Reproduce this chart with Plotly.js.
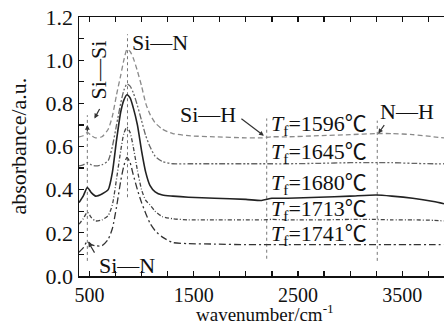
<!DOCTYPE html>
<html>
<head>
<meta charset="utf-8">
<script src="https://cdn.plot.ly/plotly-3.0.1.min.js"></script>
<style>html,body{margin:0;padding:0;background:#fff;}#chart{width:444px;height:327px;}</style>
</head>
<body>
<div id="chart"></div>
<script>
// wavenumber grid (cm^-1)
const wavenumber = [400, 440, 480, 520, 560, 620, 680, 720, 760, 800, 830, 860, 890, 920, 960, 1000, 1040, 1080, 1130, 1200, 1300, 1450, 1700, 2000, 2150, 2250, 2400, 2700, 3000, 3250, 3400, 3600, 3800, 3900];
// absorbance of each sample
const abs1596 = [0.645, 0.65, 0.665, 0.65, 0.64, 0.645, 0.68, 0.74, 0.84, 0.93, 1.0, 1.05, 1.04, 1.01, 0.95, 0.88, 0.80, 0.75, 0.71, 0.68, 0.66, 0.65, 0.645, 0.64, 0.64, 0.645, 0.645, 0.65, 0.655, 0.66, 0.66, 0.655, 0.645, 0.64];
const abs1645 = [0.51, 0.515, 0.525, 0.515, 0.51, 0.515, 0.535, 0.6, 0.7, 0.8, 0.86, 0.89, 0.88, 0.85, 0.79, 0.72, 0.65, 0.6, 0.555, 0.53, 0.52, 0.52, 0.52, 0.52, 0.52, 0.52, 0.52, 0.522, 0.525, 0.525, 0.525, 0.522, 0.52, 0.52];
const abs1680 = [0.34, 0.37, 0.41, 0.385, 0.37, 0.38, 0.40, 0.48, 0.63, 0.76, 0.815, 0.84, 0.825, 0.78, 0.70, 0.58, 0.48, 0.42, 0.39, 0.375, 0.37, 0.365, 0.36, 0.355, 0.35, 0.36, 0.36, 0.365, 0.37, 0.375, 0.37, 0.36, 0.345, 0.335];
const abs1713 = [0.24, 0.265, 0.295, 0.27, 0.255, 0.26, 0.28, 0.33, 0.45, 0.58, 0.66, 0.69, 0.665, 0.60, 0.49, 0.40, 0.35, 0.33, 0.30, 0.275, 0.265, 0.26, 0.26, 0.26, 0.26, 0.262, 0.26, 0.26, 0.262, 0.262, 0.26, 0.26, 0.258, 0.255];
const abs1741 = [0.11, 0.13, 0.16, 0.145, 0.14, 0.14, 0.17, 0.22, 0.32, 0.44, 0.51, 0.55, 0.525, 0.47, 0.40, 0.34, 0.29, 0.245, 0.21, 0.18, 0.155, 0.15, 0.148, 0.145, 0.145, 0.145, 0.145, 0.145, 0.145, 0.145, 0.145, 0.145, 0.145, 0.145];

// band marker lines (wavenumber, lower, upper)
const markerWn = [480, 865, 2200, 3260];
const markerLow = [0.07, 0.365, 0.08, 0.07];
const markerHigh = [0.745, 1.12, 0.73, 0.72];

// series labels
const tempLabels = ['1596', '1645', '1680', '1713', '1741'];
const tempLabelY = [0.70, 0.57, 0.426, 0.306, 0.19];
const tempLabelWn = 2225;

// axis ticks
const xTickVals = [500, 750, 1000, 1250, 1500, 1750, 2000, 2250, 2500, 2750, 3000, 3250, 3500, 3750];
const xTickText = ['500', '', '', '', '1500', '', '', '', '2500', '', '', '', '3500', ''];
const yTickVals = [0, 0.1, 0.2, 0.3, 0.4, 0.5, 0.6, 0.7, 0.8, 0.9, 1.0, 1.1, 1.2];
const yTickText = ['0.0', '', '0.2', '', '0.4', '', '0.6', '', '0.8', '', '1.0', '', '1.2'];

// band labels: text, wavenumber, absorbance
const bandText = ['Si—N', 'Si—H', 'N—H', 'Si—N'];
const bandWn = [1173, 1635, 3548, 856];
const bandY = [1.084, 0.75, 0.76, 0.05];

const FONT = 'Liberation Serif, "Times New Roman", "Noto Sans CJK SC", serif';

const series = [
  {y: abs1596, color: '#8a8a8a', dash: '5px,3px', width: 1.3},
  {y: abs1645, color: '#666666', dash: '6px,2px,2px,2px,2px,2px', width: 1.3},
  {y: abs1680, color: '#222222', dash: 'solid', width: 1.6},
  {y: abs1713, color: '#444444', dash: '4px,2px,1px,2px', width: 1.3},
  {y: abs1741, color: '#333333', dash: '7px,3px,2px,3px', width: 1.3}
];

const traces = [];
markerWn.forEach((w, i) => {
  traces.push({x: [w, w], y: [markerLow[i], markerHigh[i]], mode: 'lines',
    line: {color: '#777', width: 1, dash: 'dot'}, hoverinfo: 'skip', showlegend: false});
});
series.forEach(s => {
  traces.push({x: wavenumber, y: s.y, mode: 'lines', line: {color: s.color, dash: s.dash, width: s.width, shape: 'spline', smoothing: 0.6}, showlegend: false});
});

const ann = [];
bandText.forEach((t, i) => {
  ann.push({x: bandWn[i], y: bandY[i], xref: 'x', yref: 'y', text: t, showarrow: false,
    xanchor: 'center', yanchor: 'middle', font: {family: FONT, size: 22, color: '#111'}});
});
ann.push({x: 587, y: 0.955, xref: 'x', yref: 'y', text: 'Si—Si', textangle: -90, showarrow: false,
  xanchor: 'center', yanchor: 'middle', font: {family: FONT, size: 22, color: '#111'}});
tempLabels.forEach((t, i) => {
  ann.push({x: tempLabelWn, y: tempLabelY[i], xref: 'x', yref: 'y',
    text: '<i>T</i><sub>f</sub>=' + t + '℃', showarrow: false, xanchor: 'left', yanchor: 'middle',
    font: {family: FONT, size: 22, color: '#111'}});
});
// arrows
const arrows = [
  {x: 548, y: 0.73, ax: 6, ay: -11},
  {x: 2173, y: 0.65, ax: -24, ay: -18},
  {x: 3270, y: 0.66, ax: 7, ay: -10},
  {x: 490, y: 0.157, ax: 7, ay: 12},
  {x: 480, y: 0.70, ax: 0, ay: 8}
];
arrows.forEach(a => {
  ann.push({x: a.x, y: a.y, xref: 'x', yref: 'y', ax: a.ax, ay: a.ay, text: '', showarrow: true,
    arrowhead: 2, arrowsize: 0.8, arrowwidth: 1.2, arrowcolor: '#333'});
});
// axis titles
ann.push({x: 0.51, y: -0.193, xref: 'paper', yref: 'paper', text: 'wavenumber/cm<sup>-1</sup>', showarrow: false,
  xanchor: 'center', yanchor: 'bottom', borderpad: 0, font: {family: FONT, size: 19, color: '#111'}});
ann.push({x: -0.167, y: 0.5, xref: 'paper', yref: 'paper', text: 'absorbance/a.u.', textangle: -90, showarrow: false,
  xanchor: 'center', yanchor: 'middle', font: {family: FONT, size: 22, color: '#111'}});

const layout = {
  width: 444, height: 327,
  margin: {l: 79, r: 0, t: 17, b: 51, pad: 0},
  paper_bgcolor: '#fff', plot_bgcolor: '#fff',
  showlegend: false,
  xaxis: {range: [400, 3900], tickmode: 'array', tickvals: xTickVals, ticktext: xTickText,
    ticks: 'inside', ticklen: 5, tickwidth: 1.2, tickcolor: '#111',
    showline: true, linecolor: '#111', linewidth: 1.5, mirror: 'ticks',
    showgrid: false, zeroline: false,
    tickfont: {family: FONT, size: 20, color: '#111'}},
  yaxis: {range: [0, 1.2], tickmode: 'array', tickvals: yTickVals, ticktext: yTickText,
    ticks: 'inside', ticklen: 5, tickwidth: 1.2, tickcolor: '#111',
    showline: true, linecolor: '#111', linewidth: 1.5, mirror: false,
    showgrid: false, zeroline: false,
    tickfont: {family: FONT, size: 22, color: '#111'}},
  annotations: ann
};

Plotly.newPlot('chart', traces, layout, {staticPlot: true, displayModeBar: false});
</script>
</body>
</html>
